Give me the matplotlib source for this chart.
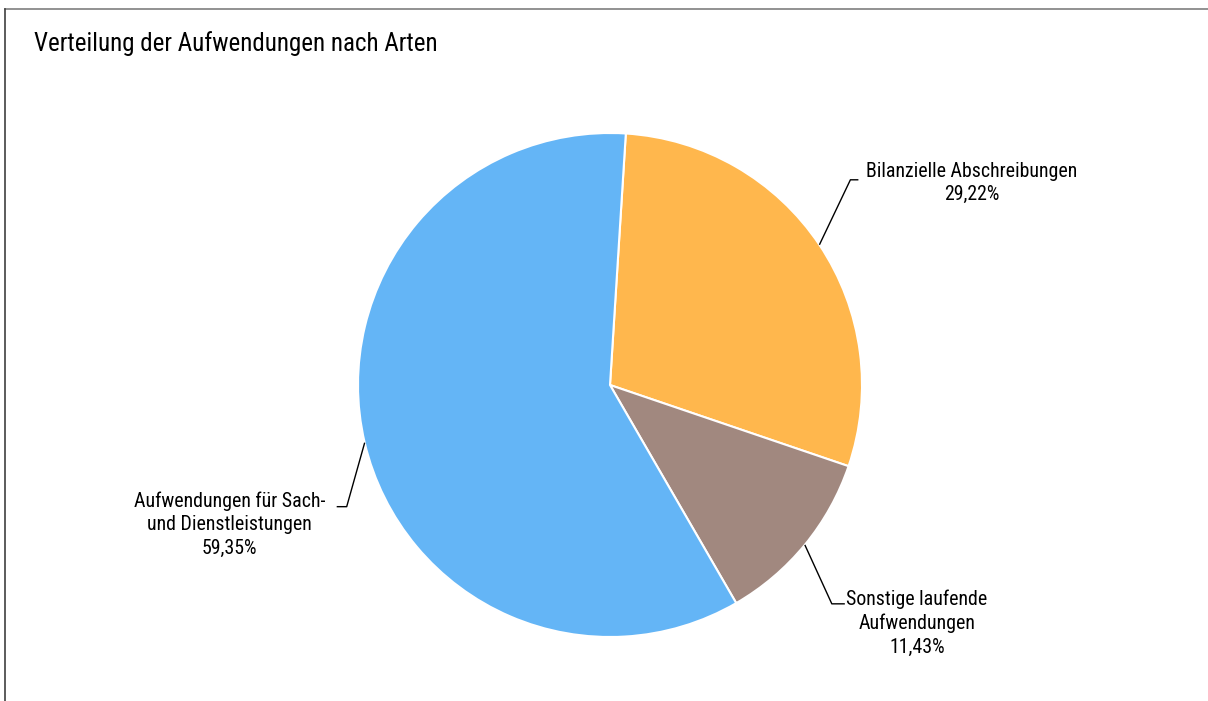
import matplotlib
matplotlib.use("Agg")
import matplotlib.pyplot as plt
import numpy as np

# Anteile der Aufwandsarten (in %), im Uhrzeigersinn ab 12 Uhr
labels = ["Bilanzielle Abschreibungen", "Sonstige laufende\nAufwendungen", "Aufwendungen für Sach-\nund Dienstleistungen"]
shares = [29.22, 11.43, 59.35]
colors = ["#FFB74D", "#A1887F", "#64B5F6"]

W, H = 1208, 701
plt.rcParams["font.family"] = ["Roboto Condensed", "DejaVu Sans"]

fig = plt.figure(figsize=(W / 100, H / 100), dpi=100)
ax = fig.add_axes([0, 0, 1, 1])

cx, cy, r = 610, H - 385, 252
wedges, _ = ax.pie(shares, colors=colors, startangle=86.4, counterclock=False,
                   center=(cx, cy), radius=r, frame=True,
                   wedgeprops=dict(edgecolor="white", linewidth=1.5))
ax.set_xlim(0, W)
ax.set_ylim(0, H)
ax.set_aspect("equal")
ax.axis("off")

# Führungslinien: Knick relativ zum Randpunkt, kurzes waagerechtes Stück, Textmitte
elbows = [(31, 65, 8), (27, -59, 13), (-18, -64, -10)]
text_off = [(113, -3), (72, -19), (-107, -18)]
for w, lab, val, (ex, ey, hx), (tx, ty) in zip(wedges, labels, shares, elbows, text_off):
    mid = np.deg2rad((w.theta1 + w.theta2) / 2)
    px, py = cx + r * np.cos(mid), cy + r * np.sin(mid)
    kx, ky = px + ex, py + ey
    ax.plot([px, kx, kx + hx], [py, ky, ky], color="black", lw=1.0,
            solid_capstyle="butt")
    txt = f"{lab}\n{val:.2f}%".replace(".", ",")
    ax.text(kx + hx + tx, ky + ty, txt, ha="center", va="center",
            fontsize=14.3, linespacing=1.3, multialignment="center")

ax.text(34, H - 44, "Verteilung der Aufwendungen nach Arten", fontsize=18,
        ha="left", va="center")

# Rahmen oben und links
ax.plot([4.5, W], [H - 9, H - 9], color="#7f7f7f", lw=1.2, clip_on=False)
ax.plot([4.5, 4.5], [0, H - 9], color="#404040", lw=1.2, clip_on=False)

fig.savefig("out.png", dpi=100)
